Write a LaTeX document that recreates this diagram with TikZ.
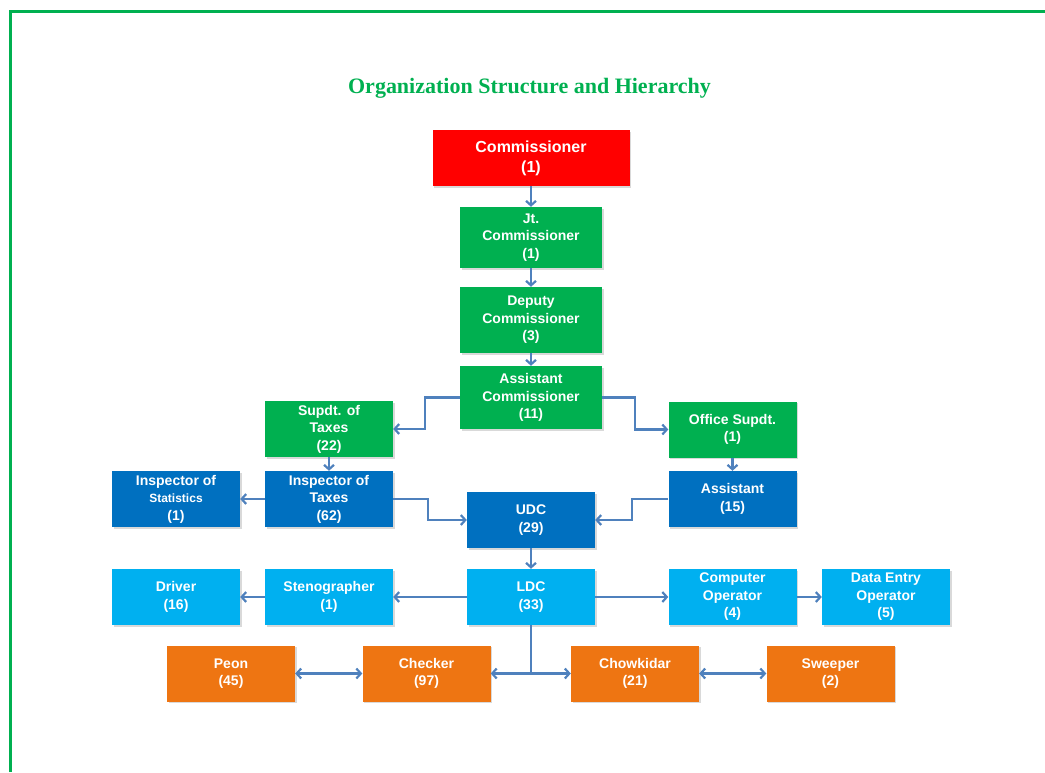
\documentclass[tikz,border=0pt]{standalone}
\usepackage{fontspec}
\usepackage{xcolor}
\usepackage{tikz}
\usetikzlibrary{arrows.meta, shadows}
\newfontfamily\boxfont{Liberation Sans}
\newfontfamily\titlefont{Liberation Serif}
\definecolor{chiefred}{HTML}{FF0000}
\definecolor{officegreen}{HTML}{00B050}
\definecolor{staffblue}{HTML}{0070C0}
\definecolor{clerkcyan}{HTML}{00B0F0}
\definecolor{menialorange}{HTML}{EE7512}
\definecolor{linkblue}{HTML}{4F81BD}
\tikzset{
  post/.style={rectangle, text=white, align=center,
    font=\boxfont\bfseries\fontsize{14}{17.5}\selectfont,
    minimum width=128pt, minimum height=56pt, inner sep=1pt,
    drop shadow={shadow xshift=1.5pt, shadow yshift=-1.5pt, opacity=0.3}},
  link/.style={draw=linkblue, line width=2.2pt, -{Straight Barb[length=4.5pt,width=10pt]}},
  both/.style={link, {Straight Barb[length=4.5pt,width=10pt]}-{Straight Barb[length=4.5pt,width=10pt]}}
}

\begin{document}
\begin{tikzpicture}[x=1pt, y=-1pt]
        \useasboundingbox (0,0) rectangle (1045,772);

        % Draw the frame and the title
        \draw[officegreen, line width=3pt] (10,772) -- (10,11) -- (1045,11);
        \node[font=\titlefont\bfseries\fontsize{22}{26}\selectfont, text=officegreen] (title) at (529.5,88) {Organization Structure and Hierarchy};

        % Draw the upper posts
        \node[post, fill=chiefred, minimum width=197pt, font=\boxfont\bfseries\fontsize{16}{20}\selectfont] (comm) at (531,158) {Commissioner\\(1)};
        \node[post, fill=officegreen, minimum width=142pt, minimum height=61pt] (jtc) at (531,237.5) {Jt.\\Commissioner\\(1)};
        \node[post, fill=officegreen, minimum width=142pt, minimum height=66pt] (dyc) at (531,320) {Deputy\\Commissioner\\(3)};
        \node[post, fill=officegreen, minimum width=142pt, minimum height=63pt] (asc) at (531,397.5) {Assistant\\Commissioner\\(11)};
        \node[post, fill=officegreen] (supt) at (329,429) {Supdt. of\\Taxes\\(22)};
        \node[post, fill=officegreen] (osupt) at (732.5,429.5) {Office Supdt.\\(1)};

        % Draw the inspectors and UDC
        \node[post, fill=staffblue] (istat) at (176,499) {Inspector of\\{\fontsize{12}{17.5}\selectfont Statistics}\\(1)};
        \node[post, fill=staffblue] (itax) at (329,499) {Inspector of\\Taxes\\(62)};
        \node[post, fill=staffblue] (udc) at (531,520) {UDC\\(29)};
        \node[post, fill=staffblue] (asst) at (732.5,499) {Assistant\\(15)};

        % Draw the LDC row
        \node[post, fill=clerkcyan] (driver) at (176,597) {Driver\\(16)};
        \node[post, fill=clerkcyan] (steno) at (329,597) {Stenographer\\(1)};
        \node[post, fill=clerkcyan] (ldc) at (531,597) {LDC\\(33)};
        \node[post, fill=clerkcyan] (compop) at (732.5,597) {Computer\\Operator\\(4)};
        \node[post, fill=clerkcyan] (deo) at (886,597) {Data Entry\\Operator\\(5)};

        % Draw the bottom row
        \node[post, fill=menialorange] (peon) at (231,673.5) {Peon\\(45)};
        \node[post, fill=menialorange] (checker) at (426.5,673.5) {Checker\\(97)};
        \node[post, fill=menialorange] (chow) at (635,673.5) {Chowkidar\\(21)};
        \node[post, fill=menialorange] (sweeper) at (830.5,673.5) {Sweeper\\(2)};

        % Draw the connectors
        \draw[link] (comm) -- (jtc);
        \draw[link] (jtc) -- (dyc);
        \draw[link] (dyc) -- (asc);
        \draw[link] (asc.west) -- ++(-35,0) |- (supt.east);
        \draw[link] (asc.east) -- ++(33,0) |- (osupt.west);
        \draw[link] (supt) -- (itax);
        \draw[link] (itax) -- (istat);
        \draw[link] (itax.east) -- ++(35,0) |- (udc.west);
        \draw[link] (osupt) -- (asst);
        \draw[link] (asst.west) -- ++(-36,0) |- (udc.east);
        \draw[link] (udc) -- (ldc);
        \draw[link] (ldc) -- (steno);
        \draw[link] (steno) -- (driver);
        \draw[link] (ldc) -- (compop);
        \draw[link] (compop) -- (deo);

        \coordinate (split) at (ldc.south |- checker.east);
        \draw[link, -] (ldc.south) -- (split);
        \draw[link] (split) -- (checker.east);
        \draw[link] (split) -- (chow.west);
        \draw[both] (peon) -- (checker);
        \draw[both] (chow) -- (sweeper);
    \end{tikzpicture}
\end{document}
